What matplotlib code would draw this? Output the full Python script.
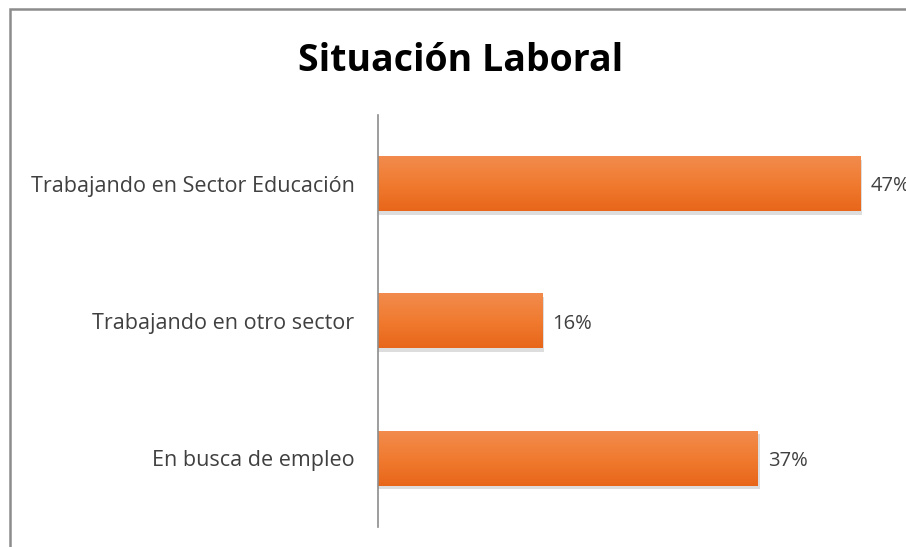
import matplotlib.pyplot as plt
import numpy as np
from matplotlib.patches import Rectangle
from matplotlib.colors import LinearSegmentedColormap

# data
categorias = ["Trabajando en Sector Educación", "Trabajando en otro sector", "En busca de empleo"]
porcentajes = [47, 16, 37]
etiquetas = ["47%", "16%", "37%"]

plt.rcParams['font.family'] = ['Open Sans', 'DejaVu Sans']

fig = plt.figure(figsize=(9.06, 5.47), dpi=100)
ax = fig.add_axes([378 / 906, 1 - 527 / 547, (891 - 378) / 906, (527 - 115) / 547])

# chart frame (Excel-like border)
fig.patches.append(Rectangle((10 / 906, -0.1), 1.2, 1 - 9 / 547 + 0.1, transform=fig.transFigure,
                             fill=False, edgecolor='#8c8c8c', linewidth=1.8))

y = np.arange(len(categorias))
alto = 0.4
grad = LinearSegmentedColormap.from_list('naranja', ['#f28b4d', '#f07b30', '#e8661a'])
g = np.linspace(0, 1, 64).reshape(-1, 1)

for yi, v in zip(y, porcentajes):
    # soft shadow
    ax.add_patch(Rectangle((0, yi - alto / 2 + 0.025), v + 0.2, alto, facecolor='#8f8f8f',
                           alpha=0.3, edgecolor='none', zorder=1))
    # gradient-filled bar
    ax.imshow(g, cmap=grad, aspect='auto', extent=(0, v, yi + alto / 2, yi - alto / 2),
              origin='upper', zorder=2, interpolation='bicubic')

ax.barh(y, porcentajes, height=alto, color='none', edgecolor='none', zorder=3)

for yi, v, t in zip(y, porcentajes, etiquetas):
    ax.text(v + 1.0, yi + 0.02, t, va='center', ha='left', fontsize=14.5, color='#404040')

ax.set_xlim(0, 50)
ax.set_ylim(2.5, -0.5)
ax.set_yticks(y)
ax.set_yticklabels(categorias, fontsize=15.5, color='#404040')
ax.tick_params(axis='y', length=0, pad=17)
ax.set_xticks([])
for s in ['top', 'right', 'bottom']:
    ax.spines[s].set_visible(False)
ax.spines['left'].set_color('#8c8c8c')
ax.spines['left'].set_linewidth(1.2)
ax.patch.set_alpha(0)

fig.text(461 / 906, 1 - 61 / 547, "Situación Laboral", ha='center', va='center',
         fontsize=27, fontweight='bold', color='#000000')

fig.savefig('out.png', dpi=100)
